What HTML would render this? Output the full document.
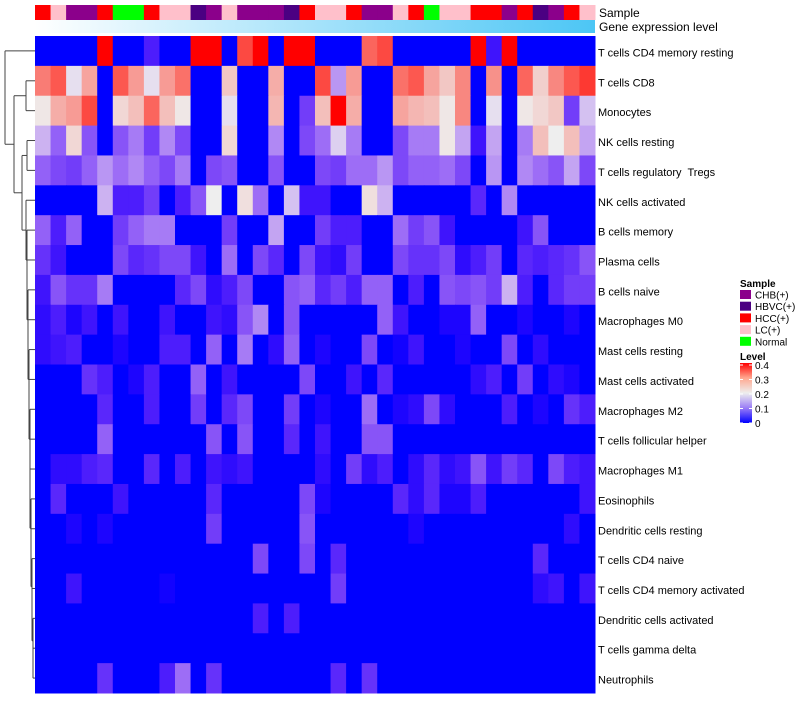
<!DOCTYPE html>
<html><head><meta charset="utf-8"><style>
body{margin:0;background:#fff;width:800px;height:700px;overflow:hidden;font-family:"Liberation Sans",sans-serif}
svg text{font-family:"Liberation Sans",sans-serif;fill:#000;white-space:pre}
</style></head><body>
<svg id="chart" width="800" height="700" xmlns="http://www.w3.org/2000/svg">
<defs>
<linearGradient id="geneGrad" x1="0" x2="1" y1="0" y2="0"><stop offset="0" stop-color="#ffffff"/><stop offset="1" stop-color="#4cc6f5"/></linearGradient>
<linearGradient id="levelGrad" x1="0" x2="0" y1="1" y2="0"><stop offset="0" stop-color="#0000ff"/><stop offset="0.25" stop-color="#9a7cf6"/><stop offset="0.5" stop-color="#eeeeee"/><stop offset="0.75" stop-color="#ffa890"/><stop offset="1" stop-color="#ff0000"/></linearGradient>
</defs>
<g id="dendro" stroke="#444" stroke-width="1" fill="none"></g>
<g id="cells"></g>
<g id="anno"></g>
<rect x="35" y="20" width="560" height="13" fill="url(#geneGrad)"/>
<text x="599" y="17" font-size="12">Sample</text>
<text x="599" y="31" font-size="12">Gene expression level</text>
<g id="rowlabels"></g>
<g>
<text x="740" y="287" font-size="10" font-weight="bold">Sample</text>
<g id="legItems"></g>
</g>
<g>
<text x="740" y="360" font-size="10" font-weight="bold">Level</text>
<rect x="740" y="363" width="12" height="60" fill="url(#levelGrad)"/>
<g id="levTicks"></g>
</g>
</svg>
<script>
const rowNames=["T cells CD4 memory resting","T cells CD8","Monocytes","NK cells resting","T cells regulatory  Tregs","NK cells activated","B cells memory","Plasma cells","B cells naive","Macrophages M0","Mast cells resting","Mast cells activated","Macrophages M2","T cells follicular helper","Macrophages M1","Eosinophils","Dendritic cells resting","T cells CD4 naive","T cells CD4 memory activated","Dendritic cells activated","T cells gamma delta","Neutrophils"];
const sampleGroups=["HCC","LC","CHB","CHB","HCC","Normal","Normal","HCC","LC","LC","HBVC","CHB","LC","CHB","CHB","CHB","HBVC","HCC","LC","LC","HCC","CHB","CHB","LC","HCC","Normal","LC","LC","HCC","HCC","CHB","HCC","HBVC","CHB","HCC","LC"];
const groupNames=["CHB","HBVC","HCC","LC","Normal"];
const groupLabels=["CHB(+)","HBVC(+)","HCC(+)","LC(+)","Normal"];
const groupColors=["#8b008b","#4b0082","#ff0000","#ffc0cb","#00ff00"];
const levelTicks=[0.4,0.3,0.2,0.1,0];
const r0=[0,0,0,0,0.4,0,0,0.04,0,0,0.4,0.4,0,0.37,0.4,0,0.4,0.4,0,0,0,0.35,0.37,0,0,0,0,0,0.4,0.03,0.4,0,0,0,0,0];
const r1=[0.33,0.36,0.19,0.29,0,0.36,0.3,0.19,0.3,0.34,0,0,0.25,0,0,0.28,0,0,0.37,0.14,0.3,0,0,0.34,0.36,0.29,0.25,0.32,0,0.31,0,0.35,0.24,0.32,0.36,0.38];
const r2=[0.21,0.28,0.3,0.37,0,0.23,0.26,0.35,0.26,0.21,0,0,0.19,0,0,0.27,0,0.07,0.26,0.4,0.28,0,0,0.29,0.27,0.26,0.21,0.32,0,0.19,0,0.21,0.23,0.25,0.07,0.17];
const r3=[0.16,0.1,0.23,0.09,0,0.09,0.12,0.07,0.13,0.08,0,0,0.23,0,0,0.13,0,0.08,0.11,0.18,0.12,0,0,0.08,0.12,0.12,0.21,0.15,0.03,0.15,0,0.12,0.26,0.2,0.26,0.15];
const r4=[0.1,0.08,0.07,0.1,0.14,0.11,0.13,0.1,0.08,0.12,0,0.08,0.09,0,0,0.09,0,0,0.08,0.07,0.11,0.11,0.14,0.08,0.1,0.1,0.11,0.08,0,0.14,0,0.13,0.11,0.09,0.15,0.08];
const r5=[0,0,0,0,0.16,0.04,0.04,0.07,0,0.04,0.09,0.2,0,0.22,0.11,0,0.17,0.03,0.03,0,0,0.22,0.16,0,0,0,0,0,0.05,0,0.13,0,0,0,0,0];
const r6=[0.1,0.04,0.1,0,0,0.07,0.1,0.12,0.12,0,0,0,0.07,0,0,0.15,0,0,0.07,0.04,0.04,0,0,0.11,0.07,0.09,0.03,0,0,0,0,0.03,0.09,0,0,0];
const r7=[0.06,0.03,0,0,0,0.08,0.05,0.06,0.08,0.08,0.03,0,0.11,0,0.08,0.05,0,0.08,0.03,0.02,0.07,0,0,0.08,0.06,0.06,0.08,0.02,0.04,0.07,0,0.05,0.04,0.05,0.06,0.09];
const r8=[0.03,0.09,0.06,0.06,0.12,0,0,0,0,0.05,0.08,0.02,0.04,0.08,0,0,0.09,0.1,0.05,0.07,0.04,0.1,0.1,0,0.04,0,0.09,0.08,0.09,0.07,0.16,0.04,0,0.05,0.07,0.07];
const r9=[0.02,0.04,0.01,0.03,0,0.03,0,0,0.03,0,0,0.03,0.02,0.09,0.13,0,0.09,0,0,0,0,0,0.1,0.03,0,0,0.01,0.01,0.1,0,0,0.01,0,0,0.01,0];
const r10=[0.02,0.03,0.04,0,0,0.01,0,0,0.04,0.04,0,0.1,0,0.12,0,0.02,0.1,0,0.01,0,0,0.08,0,0.005,0.03,0,0,0.01,0,0,0.08,0,0.02,0,0,0];
const r11=[0,0,0,0.06,0.04,0,0.01,0.04,0,0,0.1,0,0.03,0,0,0,0,0.08,0,0,0.03,0,0.05,0,0,0,0,0,0.02,0.04,0,0.07,0,0.02,0.01,0];
const r12=[0,0,0,0,0.05,0,0,0.04,0,0,0.07,0,0.05,0.08,0,0,0.07,0,0.01,0,0,0.11,0,0.01,0.02,0.08,0.02,0,0,0,0.04,0,0.01,0,0.06,0.04];
const r13=[0,0,0,0,0.1,0,0,0,0,0,0,0.09,0,0.09,0,0,0.05,0,0.03,0,0,0.09,0.09,0,0,0,0,0,0,0,0,0,0,0,0,0];
const r14=[0,0.02,0.02,0.04,0.05,0,0,0.05,0,0.04,0,0.03,0.02,0.03,0,0,0,0,0.02,0,0.07,0.02,0.04,0,0.02,0.05,0.02,0.03,0.09,0.03,0.07,0.05,0,0.08,0.04,0.03];
const r15=[0,0.05,0,0,0,0.03,0,0,0,0,0,0.05,0,0,0,0,0,0.08,0.01,0,0,0,0,0.05,0.02,0.05,0.01,0.01,0.04,0,0,0,0,0,0,0.03];
const r16=[0,0,0.01,0,0.01,0,0,0,0,0,0,0.07,0,0,0,0,0,0.09,0,0,0,0,0,0,0.01,0,0,0,0,0,0,0,0,0,0.02,0];
const r17=[0,0,0,0,0,0,0,0,0,0,0,0,0,0,0.08,0,0,0.08,0,0.05,0,0,0,0,0,0,0,0,0,0,0,0,0.05,0,0,0];
const r18=[0,0,0.03,0,0,0,0,0,0.005,0,0,0,0,0,0,0,0,0,0,0.07,0,0,0,0,0,0,0,0,0,0,0,0,0.02,0.03,0,0.03];
const r19=[0,0,0,0,0,0,0,0,0,0,0,0,0,0,0.04,0,0.04,0,0,0,0,0,0,0,0,0,0,0,0,0,0,0,0,0,0,0];
const r20=[0,0,0,0,0,0,0,0,0,0,0,0,0,0,0,0,0,0,0,0,0,0,0,0,0,0,0,0,0,0,0,0,0,0,0,0];
const r21=[0,0,0,0,0.06,0,0,0,0.04,0.11,0,0.06,0,0,0,0,0,0,0,0.05,0,0.06,0,0,0,0,0,0,0,0,0,0,0,0,0,0];
const values=[r0,r1,r2,r3,r4,r5,r6,r7,r8,r9,r10,r11,r12,r13,r14,r15,r16,r17,r18,r19,r20,r21];

const NS="http://www.w3.org/2000/svg";
const X0=35,X1=595,Y0=36,Y1=693;
const nC=sampleGroups.length,nR=rowNames.length;
const cw=(X1-X0)/nC,rh=(Y1-Y0)/nR;
const xPos=c=>X0+c*cw, yPos=r=>Y0+r*rh;
function color(v){
  v=Math.max(0,Math.min(0.4,v));
  let r,g,b;
  if(v<=0.2){const t=v/0.2;r=238*Math.pow(t,0.7);g=238*Math.pow(t,1.3);b=255-17*t;}
  else{const t=(v-0.2)/0.2;r=238+17*t;g=238*Math.pow(1-t,0.62);b=238*Math.pow(1-t,0.68);}
  return `rgb(${Math.round(r)},${Math.round(g)},${Math.round(b)})`;
}
function mk(tag,attrs,parent){const e=document.createElementNS(NS,tag);for(const k in attrs)e.setAttribute(k,attrs[k]);parent.appendChild(e);return e;}
const cells=document.getElementById('cells');
values.forEach((row,r)=>row.forEach((v,c)=>{
  const e=mk('rect',{x:xPos(c),y:yPos(r),width:cw+0.5,height:rh+0.5,fill:color(v)},cells);
  
  
}));
const anno=document.getElementById('anno');
sampleGroups.forEach((g,c)=>{
  const e=mk('rect',{x:xPos(c),y:5,width:cw+0.5,height:15,fill:groupColors[groupNames.indexOf(g)]},anno);
  
  
});
const rl=document.getElementById('rowlabels');
rowNames.forEach((n,r)=>{
  const t=mk('text',{x:598,y:yPos(r)+rh/2+5.5,'font-size':11},rl);t.textContent=n;
  
  
});
const li=document.getElementById('legItems');
groupLabels.forEach((n,i)=>{
  const y=290+i*11.7;
  const b=mk('rect',{x:740,y:y,width:11,height:9,fill:groupColors[i]},li);
  
  
  const t=mk('text',{x:755,y:y+8.5,'font-size':10},li);t.textContent=n;
  
  
});
const lt=document.getElementById('levTicks');
levelTicks.forEach(v=>{
  const y=423-v/0.4*58;
  const t=mk('text',{x:755,y:y+4,'font-size':10},lt);t.textContent=String(v);
  
  
  mk('line',{x1:740,x2:743,y1:y,y2:y,stroke:'#fff'},lt);
  mk('line',{x1:749,x2:752,y1:y,y2:y,stroke:'#fff'},lt);
});
const d=document.getElementById('dendro');
const cy=r=>yPos(r)+rh/2;
function seg(x1,y1,x2,y2){mk('line',{x1,y1,x2,y2},d);}
function join(x,ya,xa,yb,xb){seg(x,ya,x,yb);seg(x,ya,xa,ya);seg(x,yb,xb,yb);}
let curY=cy(21),curX=35;
const xs=[33,33,32,32,31,31,30,30,30,29,29,28,28,27,27];
for(let r=20,i=0;r>=6;r--,i++){
  const x=xs[i]||27;
  const ny=(cy(r)+curY)/2;
  join(x,cy(r),35,curY,curX);
  curY=ny;curX=x;
}
join(26,cy(5),35,curY,curX);
const lowY=(cy(5)+curY)/2;
join(27,cy(3),35,cy(4),35);
const nkY=(cy(3)+cy(4))/2;
join(22,nkY,27,lowY,26);
const midY=(nkY+lowY)/2;
join(26,cy(1),35,cy(2),35);
const cdY=(cy(1)+cy(2))/2;
join(14,cdY,26,midY,22);
const aY=(cdY+midY)/2;
join(5,cy(0),35,aY,14);
</script>
</body></html>
